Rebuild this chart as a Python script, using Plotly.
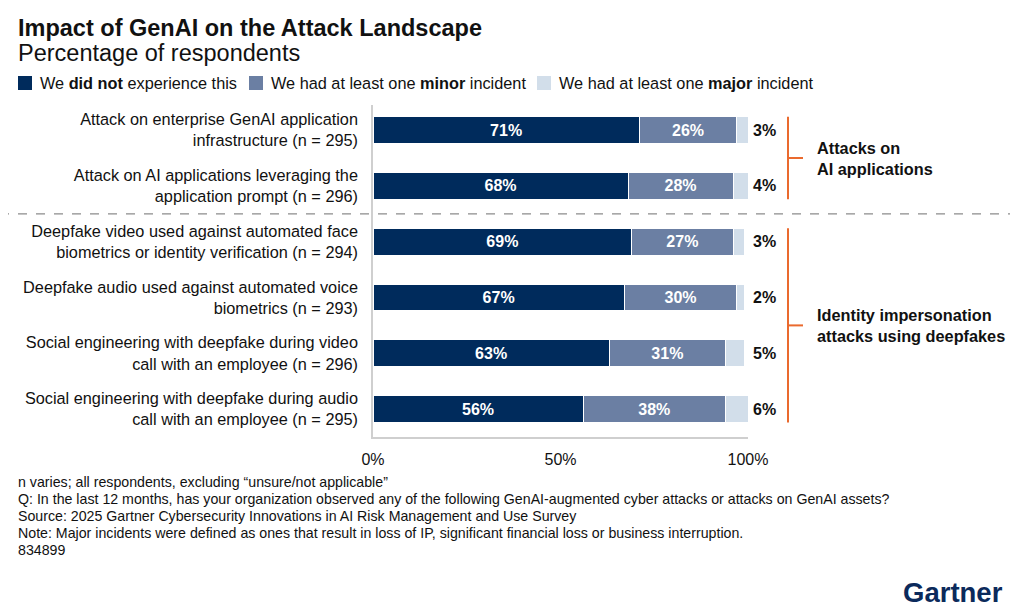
import plotly.graph_objects as go

# ---------------- data ----------------
categories = [
    "Attack on enterprise GenAI application<br>infrastructure (n = 295)",
    "Attack on AI applications leveraging the<br>application prompt (n = 296)",
    "Deepfake video used against automated face<br>biometrics or identity verification (n = 294)",
    "Deepfake audio used against automated voice<br>biometrics (n = 293)",
    "Social engineering with deepfake during video<br>call with an employee (n = 296)",
    "Social engineering with deepfake during audio<br>call with an employee (n = 295)",
]
did_not = [71, 68, 69, 67, 63, 56]
minor = [26, 28, 27, 30, 31, 38]
major = [3, 4, 3, 2, 5, 6]
series_names = [
    "We <b>did not</b> experience this",
    "We had at least one <b>minor</b> incident",
    "We had at least one <b>major</b> incident",
]
x_ticks = [0, 50, 100]
x_tick_labels = ["0%", "50%", "100%"]
groups = ["Attacks on<br>AI applications", "Identity impersonation<br>attacks using deepfakes"]
group_rows = [(0, 1), (2, 5)]

# ---------------- style ----------------
C_DARK = "#002B5C"
C_MID = "#6B7FA3"
C_LIGHT = "#D2DEEA"
ORANGE = "#EA6A2E"
FONT = "Liberation Sans, Arial, sans-serif"
O = 8  # page body margin offset
W, H = 1024 - O, 614 - O
L, R, T, B = 373 - O, 276, 105 - O, 177
PW, PH = W - L - R, H - T - B


def px(xp):
    return (xp - O - L) / PW


def py(yp):
    return (H - B - (yp - O)) / PH


ypos = list(range(len(categories)))
fig = go.Figure()
for vals, col, name, txt in [
    (did_not, C_DARK, series_names[0], True),
    (minor, C_MID, series_names[1], True),
    (major, C_LIGHT, series_names[2], False),
]:
    fig.add_trace(go.Bar(
        y=ypos, x=vals, orientation="h", name=name, width=0.48,
        marker=dict(color=col, line=dict(color="white", width=1)),
        text=[f"<b>{v}%</b>" for v in vals] if txt else None,
        textposition="inside", insidetextanchor="middle",
        textfont=dict(color="white", size=16, family=FONT),
        showlegend=False, hoverinfo="skip",
    ))

annotations = []
# outside labels for major incidents
for i, v in enumerate(major):
    annotations.append(dict(x=100, y=i, xref="x", yref="y", text=f"<b>{v}%</b>",
                            showarrow=False, xanchor="left", xshift=3,
                            font=dict(size=16, color="#111", family=FONT)))

# title + subtitle
annotations.append(dict(x=px(16), y=py(28), xref="paper", yref="paper", xanchor="left", yanchor="middle",
                        text="<b>Impact of GenAI on the Attack Landscape</b>", showarrow=False,
                        font=dict(size=23.5, color="#111", family=FONT)))
annotations.append(dict(x=px(16), y=py(53), xref="paper", yref="paper", xanchor="left", yanchor="middle",
                        text="Percentage of respondents", showarrow=False,
                        font=dict(size=23.5, color="#111", family=FONT)))

shapes = []
# legend
leg_sq = [18, 249, 537]
leg_col = [C_DARK, C_MID, C_LIGHT]
for sx, col, name in zip(leg_sq, leg_col, series_names):
    shapes.append(dict(type="rect", xref="paper", yref="paper", x0=px(sx), x1=px(sx + 14),
                       y0=py(90), y1=py(76), fillcolor=col, line=dict(width=0)))
    annotations.append(dict(x=px(sx + 20), y=py(83), xref="paper", yref="paper", xanchor="left",
                            yanchor="middle", text=name, showarrow=False,
                            font=dict(size=16.3, color="#111", family=FONT)))

# dashed separator
shapes.append(dict(type="line", xref="paper", yref="y", x0=px(0), x1=px(1010), y0=1.5, y1=1.5,
                   line=dict(color="#8c8c8c", width=1.3, dash="dash")))

# brackets and group labels
for (r0, r1), g in zip(group_rows, groups):
    shapes.append(dict(type="line", xref="paper", yref="y", x0=px(788), x1=px(788),
                       y0=r0 - 0.24, y1=r1 + 0.24, line=dict(color=ORANGE, width=2)))
    mid = (r0 + r1) / 2
    shapes.append(dict(type="line", xref="paper", yref="y", x0=px(788), x1=px(803),
                       y0=mid, y1=mid, line=dict(color=ORANGE, width=2)))
    annotations.append(dict(x=px(815), y=mid, xref="paper", yref="y", xanchor="left", yanchor="middle",
                            text=f"<b>{g}</b>", showarrow=False, align="left",
                            font=dict(size=16.3, color="#111", family=FONT)))

# footer
footer = [
    "n varies; all respondents, excluding “unsure/not applicable”",
    "Q: In the last 12 months, has your organization observed any of the following GenAI-augmented cyber attacks or attacks on GenAI assets?",
    "Source: 2025 Gartner Cybersecurity Innovations in AI Risk Management and Use Survey",
    "Note: Major incidents were defined as ones that result in loss of IP, significant financial loss or business interruption.",
    "834899",
]
for k, line in enumerate(footer):
    annotations.append(dict(x=px(16), y=py(482 + 17 * k), xref="paper", yref="paper", xanchor="left",
                            yanchor="middle", text=line, showarrow=False,
                            font=dict(size=14.2, color="#111", family=FONT)))

annotations.append(dict(x=px(1005), y=py(592), xref="paper", yref="paper", xanchor="right",
                        yanchor="middle", text="<b>Gartner</b>", showarrow=False,
                        font=dict(size=27.5, color="#0B2A5B", family=FONT)))

fig.update_layout(
    width=W, height=H, barmode="stack", bargap=0.5,
    margin=dict(l=L, r=R, t=T, b=B, autoexpand=False),
    paper_bgcolor="white", plot_bgcolor="white",
    font=dict(family=FONT, color="#111"),
    shapes=shapes, annotations=annotations,
    uniformtext=dict(mode="show", minsize=10),
    xaxis=dict(range=[0, 100], tickvals=x_ticks, ticktext=x_tick_labels, showgrid=False,
               zeroline=False, showline=True, linecolor="#cfcfcf", linewidth=1.5,
               ticks="outside", ticklen=7, tickcolor="rgba(0,0,0,0)",
               tickfont=dict(size=16, color="#111", family=FONT), fixedrange=True),
    yaxis=dict(range=[5.5, -0.45], tickvals=ypos, ticktext=categories, showgrid=False,
               zeroline=False, showline=True, linecolor="#cfcfcf", linewidth=1.5,
               ticks="outside", ticklen=10, tickcolor="rgba(0,0,0,0)",
               tickfont=dict(size=16.3, color="#111", family=FONT), fixedrange=True),
)

fig.write_html("out.html")
